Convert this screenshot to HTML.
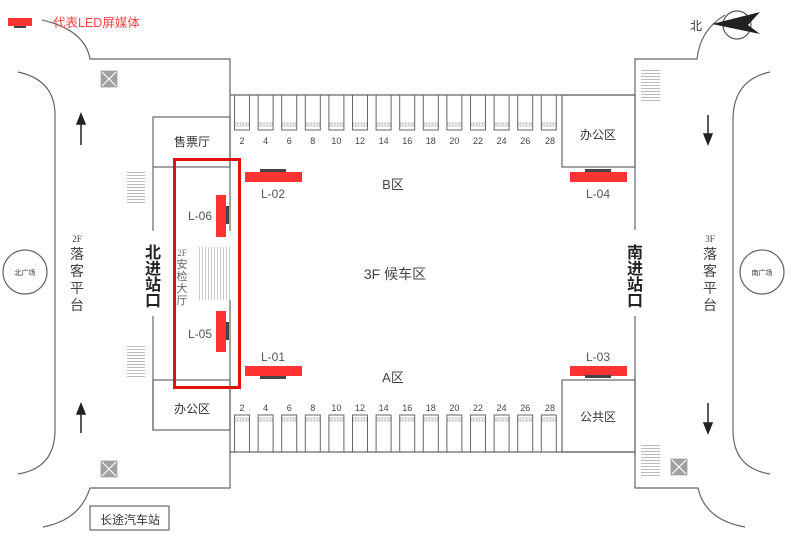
<!DOCTYPE html>
<html><head><meta charset="utf-8"><style>
html,body{margin:0;padding:0;background:#fff;}
svg{display:block;font-family:"Liberation Sans","Noto Sans CJK SC",sans-serif;}
</style></head><body>
<svg width="800" height="539" viewBox="0 0 800 539" xmlns="http://www.w3.org/2000/svg">
<defs>
<pattern id="st" width="4" height="3" patternUnits="userSpaceOnUse"><rect width="4" height="3" fill="#fff"/><line x1="0" y1="1.5" x2="4" y2="1.5" stroke="#bbb" stroke-width="1"/></pattern>
<pattern id="sv" width="3" height="4" patternUnits="userSpaceOnUse"><rect width="3" height="4" fill="#fff"/><line x1="1.5" y1="0" x2="1.5" y2="4" stroke="#ccc" stroke-width="1"/></pattern>
<g id="slot"><rect x="-7.5" y="0" width="15" height="35" fill="none" stroke="#666" stroke-width="1"/><rect x="-6.5" y="28" width="13" height="3" fill="url(#sv)" stroke="#999" stroke-width="0.5"/></g>
<g id="slotb"><rect x="-7.5" y="0" width="15" height="37" fill="none" stroke="#666" stroke-width="1"/><rect x="-6.5" y="3" width="13" height="3" fill="url(#sv)" stroke="#999" stroke-width="0.5"/></g>
</defs>
<g fill="none" stroke="#666" stroke-width="1.2">
<path d="M42 20 Q85 30 90 59 L230 59 L230 488 L90 488 Q80 520 43 527"/>
<path d="M18 72 Q55 80 55 115 L55 430 Q55 468 18 474"/>
<path d="M725 15 Q700 30 697 59 L635 59 L635 230"/>
<path d="M635 316 L635 488 L698 488 Q705 520 745 527"/>
<path d="M770 72 Q733 80 733 120 L733 430 Q733 468 770 474"/>
<rect x="153" y="117" width="77" height="50"/>
<line x1="153" y1="167" x2="153" y2="231"/>
<line x1="153" y1="316" x2="153" y2="430"/>
<rect x="153" y="380" width="77" height="50"/>
<line x1="230" y1="95" x2="635" y2="95"/>
<line x1="230" y1="452" x2="635" y2="452"/>
<rect x="562" y="95" width="73" height="72"/>
<rect x="562" y="380" width="73" height="72"/>
<rect x="90" y="506" width="79" height="24"/>
<circle cx="25" cy="272" r="22"/>
<circle cx="762" cy="272" r="22"/>
</g>
<rect x="229" y="231" width="3" height="69" fill="#fff"/>
<g>
<use href="#slot" x="242" y="95"/><use href="#slot" x="265.6" y="95"/><use href="#slot" x="289.2" y="95"/><use href="#slot" x="312.8" y="95"/><use href="#slot" x="336.4" y="95"/><use href="#slot" x="360" y="95"/><use href="#slot" x="383.6" y="95"/><use href="#slot" x="407.2" y="95"/><use href="#slot" x="430.8" y="95"/><use href="#slot" x="454.4" y="95"/><use href="#slot" x="478" y="95"/><use href="#slot" x="501.6" y="95"/><use href="#slot" x="525.2" y="95"/><use href="#slot" x="548.8" y="95"/>
<use href="#slotb" x="242" y="415"/><use href="#slotb" x="265.6" y="415"/><use href="#slotb" x="289.2" y="415"/><use href="#slotb" x="312.8" y="415"/><use href="#slotb" x="336.4" y="415"/><use href="#slotb" x="360" y="415"/><use href="#slotb" x="383.6" y="415"/><use href="#slotb" x="407.2" y="415"/><use href="#slotb" x="430.8" y="415"/><use href="#slotb" x="454.4" y="415"/><use href="#slotb" x="478" y="415"/><use href="#slotb" x="501.6" y="415"/><use href="#slotb" x="525.2" y="415"/><use href="#slotb" x="548.8" y="415"/>
</g>
<g font-size="9" fill="#444" text-anchor="middle">
<text x="242" y="144">2</text><text x="265.6" y="144">4</text><text x="289.2" y="144">6</text><text x="312.8" y="144">8</text><text x="336.4" y="144">10</text><text x="360" y="144">12</text><text x="383.6" y="144">14</text><text x="407.2" y="144">16</text><text x="430.8" y="144">18</text><text x="454.4" y="144">20</text><text x="478" y="144">22</text><text x="501.6" y="144">24</text><text x="525.2" y="144">26</text><text x="550" y="144">28</text>
<text x="242" y="411">2</text><text x="265.6" y="411">4</text><text x="289.2" y="411">6</text><text x="312.8" y="411">8</text><text x="336.4" y="411">10</text><text x="360" y="411">12</text><text x="383.6" y="411">14</text><text x="407.2" y="411">16</text><text x="430.8" y="411">18</text><text x="454.4" y="411">20</text><text x="478" y="411">22</text><text x="501.6" y="411">24</text><text x="525.2" y="411">26</text><text x="550" y="411">28</text>
</g>
<rect x="127" y="170" width="18" height="33" fill="url(#st)"/>
<rect x="127" y="345" width="18" height="33" fill="url(#st)"/>
<rect x="641" y="70" width="19" height="33" fill="url(#st)"/>
<rect x="641" y="445" width="19" height="33" fill="url(#st)"/>
<rect x="198" y="247" width="32" height="53" fill="url(#sv)"/>
<g stroke="#fff" stroke-width="1.2">
<rect x="100" y="70" width="18" height="18" fill="#a0a0a0"/><path d="M102 72 L116 86 M116 72 L102 86"/>
<rect x="100" y="460" width="18" height="18" fill="#a0a0a0"/><path d="M102 462 L116 476 M116 462 L102 476"/>
<rect x="670" y="458" width="18" height="18" fill="#a0a0a0"/><path d="M672 460 L686 474 M686 460 L672 474"/>
</g>
<g stroke="#222" stroke-width="1.5" fill="#222">
<line x1="81" y1="120" x2="81" y2="145"/><path d="M77 124 L81 114 L85 124 Z"/>
<line x1="81" y1="410" x2="81" y2="433"/><path d="M77 414 L81 404 L85 414 Z"/>
<line x1="708" y1="115" x2="708" y2="138"/><path d="M704 134 L708 144 L712 134 Z"/>
<line x1="708" y1="403" x2="708" y2="427"/><path d="M704 423 L708 433 L712 423 Z"/>
</g>
<circle cx="737" cy="25" r="14" fill="none" stroke="#555" stroke-width="1.2"/>
<path d="M712 24 L760 12 L748 25 L760 34 Z" fill="#222"/>
<text x="690" y="30" font-size="12" fill="#333">北</text>
<rect x="8" y="18" width="24" height="8" fill="#f33"/><rect x="14" y="26" width="12" height="2" fill="#444"/>
<path d="M42 20 L50 22" stroke="#888"/>
<text x="53" y="27" font-size="12.5" fill="#f44">代表LED屏媒体</text>
<rect x="245" y="172" width="57" height="10" fill="#f33"/><rect x="260" y="169" width="26" height="3" fill="#444"/>
<rect x="570" y="172" width="57" height="10" fill="#f33"/><rect x="585" y="169" width="26" height="3" fill="#444"/>
<rect x="245" y="366" width="57" height="10" fill="#f33"/><rect x="260" y="376" width="26" height="3" fill="#444"/>
<rect x="570" y="366" width="57" height="10" fill="#f33"/><rect x="585" y="375" width="26" height="3" fill="#444"/>
<rect x="216" y="195" width="10" height="42" fill="#f33"/><rect x="226" y="206" width="3" height="18" fill="#444"/>
<rect x="216" y="311" width="10" height="41" fill="#f33"/><rect x="226" y="322" width="3" height="18" fill="#444"/>
<g font-size="12" fill="#555" text-anchor="middle">
<text x="273" y="198">L-02</text><text x="598" y="198">L-04</text>
<text x="273" y="361">L-01</text><text x="598" y="361">L-03</text>
<text x="200" y="220">L-06</text><text x="200" y="338">L-05</text>
</g>
<rect x="174.5" y="159.5" width="65" height="228" fill="none" stroke="#e41010" stroke-width="3"/>
<g font-size="12" fill="#333" text-anchor="middle">
<text x="192" y="146">售票厅</text>
<text x="192" y="413">办公区</text>
<text x="598" y="139">办公区</text>
<text x="598" y="421">公共区</text>
<text x="130" y="524">长途汽车站</text>
</g>
<g font-size="13" fill="#444" text-anchor="middle">
<text x="393" y="189">B区</text><text x="393" y="382">A区</text>
<text x="395" y="279" font-size="14">3F 候车区</text>
</g>
<g font-size="16" fill="#222" font-weight="bold" text-anchor="middle">
<text x="153" y="258">北</text><text x="153" y="274">进</text><text x="153" y="290">站</text><text x="153" y="306">口</text>
<text x="635" y="258">南</text><text x="635" y="274">进</text><text x="635" y="290">站</text><text x="635" y="306">口</text>
</g>
<g font-size="14" fill="#444" text-anchor="middle">
<text x="77" y="242" font-size="9" font-family="Liberation Serif">2F</text>
<text x="77" y="259">落</text><text x="77" y="276">客</text><text x="77" y="293">平</text><text x="77" y="310">台</text>
<text x="710" y="242" font-size="9" font-family="Liberation Serif">3F</text>
<text x="710" y="259">落</text><text x="710" y="276">客</text><text x="710" y="293">平</text><text x="710" y="310">台</text>
</g>
<g font-size="11" fill="#666" text-anchor="middle">
<text x="182" y="256" font-size="9" font-family="Liberation Serif">2F</text>
<text x="182" y="268">安</text><text x="182" y="280">检</text><text x="182" y="292">大</text><text x="182" y="304">厅</text>
</g>
<text x="25" y="275" font-size="7" fill="#333" text-anchor="middle">北广场</text>
<text x="762" y="275" font-size="7" fill="#333" text-anchor="middle">南广场</text>
</svg>
</body></html>
